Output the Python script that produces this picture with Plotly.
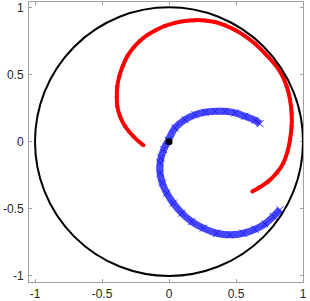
import plotly.graph_objects as go

# Red trajectory (dots)
red_x = [-0.192, -0.266, -0.328, -0.366, -0.386, -0.390, -0.386, -0.371, -0.346, -0.311,
         -0.266, -0.216, -0.160, -0.100, -0.030, 0.045, 0.119, 0.194, 0.269, 0.343,
         0.418, 0.493, 0.567, 0.642, 0.716, 0.791, 0.841, 0.878, 0.903, 0.915,
         0.915, 0.903, 0.888, 0.853, 0.803, 0.741, 0.679, 0.622]
red_y = [-0.027, 0.040, 0.114, 0.189, 0.264, 0.338, 0.413, 0.487, 0.562, 0.637,
         0.699, 0.752, 0.795, 0.830, 0.862, 0.885, 0.899, 0.905, 0.903, 0.891,
         0.866, 0.831, 0.786, 0.729, 0.657, 0.575, 0.500, 0.413, 0.313, 0.214,
         0.114, 0.015, -0.060, -0.159, -0.234, -0.296, -0.338, -0.371]

# Blue trajectory (x markers)
blue_x = [0.679, 0.642, 0.567, 0.493, 0.418, 0.343, 0.269, 0.194, 0.119, 0.045,
          -0.005, -0.040, -0.060, -0.067, -0.067, -0.050, -0.017, 0.032, 0.095, 0.169,
          0.256, 0.356, 0.455, 0.555, 0.642, 0.716, 0.779, 0.828]
blue_y = [0.134, 0.159, 0.189, 0.214, 0.226, 0.226, 0.219, 0.201, 0.164, 0.102,
          0.010, -0.060, -0.120, -0.159, -0.234, -0.308, -0.383, -0.458, -0.532, -0.595,
          -0.644, -0.682, -0.694, -0.682, -0.652, -0.612, -0.557, -0.507]

origin_x = [0]
origin_y = [0]

tick_vals = [-1, -0.5, 0, 0.5, 1]
tick_text = ["-1", "-0.5", "0", "0.5", "1"]

fig = go.Figure()

fig.add_shape(type="circle", xref="x", yref="y", x0=-1, y0=-1, x1=1, y1=1,
              line=dict(color="black", width=2), layer="above")

fig.add_trace(go.Scatter(x=red_x, y=red_y, mode="lines+markers",
                         line=dict(color="#ff0000", width=4, shape="spline", smoothing=1.0),
                         marker=dict(color="#ff0000", size=4, symbol="circle"),
                         showlegend=False))

fig.add_trace(go.Scatter(x=blue_x, y=blue_y, mode="lines+markers",
                         line=dict(color="rgba(0,0,255,0.72)", width=7, shape="spline", smoothing=1.0),
                         marker=dict(color="#0000ff", size=7, symbol="x-thin",
                                     line=dict(color="#2020ff", width=1)),
                         showlegend=False))

fig.add_trace(go.Scatter(x=origin_x, y=origin_y, mode="markers",
                         marker=dict(color="black", size=7),
                         showlegend=False))

axis_common = dict(showgrid=False, zeroline=False, showline=True,
                   linecolor="#a0a0a0", linewidth=1, mirror="allticks",
                   ticks="inside", ticklen=3, tickcolor="#a0a0a0",
                   tickvals=tick_vals, ticktext=tick_text, automargin=False,
                   tickfont=dict(family="Liberation Sans", size=12, color="#262626"))

fig.update_layout(
    width=310, height=301,
    margin=dict(l=29, r=7, t=2, b=19),
    paper_bgcolor="white", plot_bgcolor="white",
    xaxis=dict(range=[-1.045, 1.0], ticklabelstandoff=1, **axis_common),
    yaxis=dict(range=[-1.045, 1.04], ticklabelstandoff=2, **axis_common),
)

fig.write_html("out.html", config={"displayModeBar": False},
               post_script="document.body.style.margin='0';")
